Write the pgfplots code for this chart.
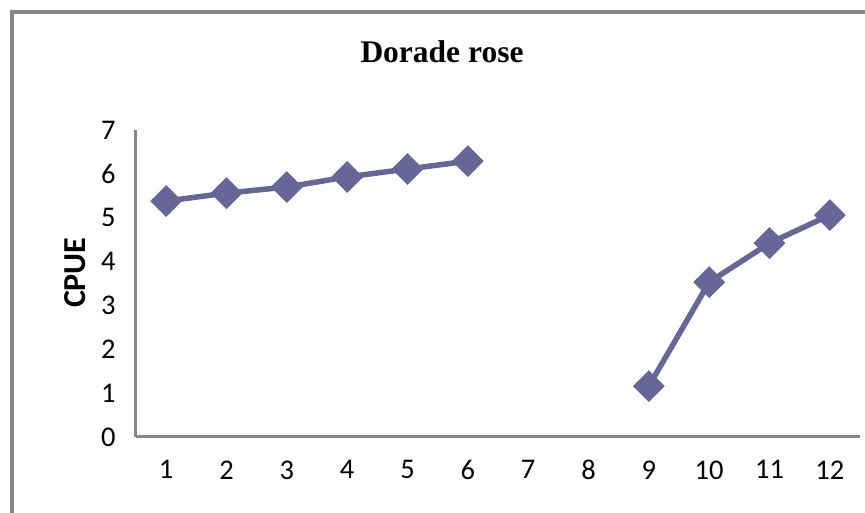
\documentclass[border=0pt]{standalone}
\usepackage{pgfplots}
\pgfplotsset{compat=1.18}
\usepackage{fontspec}
\setmainfont{Carlito}
\newfontfamily\titlefont{Liberation Serif}
\definecolor{serie}{HTML}{666699}
\definecolor{axe}{HTML}{868686}

\begin{document}
\begin{tikzpicture}[x=1pt,y=1pt]
\useasboundingbox (0,0) rectangle (865,513);
% cadre du graphique (seuls les bords haut et gauche visibles)
\draw[line width=4, color=axe] (12,0) -- (12,501) -- (865,501);
\node[font=\titlefont\bfseries\fontsize{31.5}{36}\selectfont] at (442,461) {Dorade rose};
\begin{axis}[
    at={(136pt,76pt)}, anchor=south west,
    scale only axis, width=724pt, height=307pt,
    xmin=0.5, xmax=12.5, ymin=0, ymax=7,
    xtick={1,...,12}, ytick={0,...,7},
    axis x line=bottom, axis y line=left,
    axis line style={-, line width=3, color=axe},
    major tick length=0,
    tick label style={font=\fontsize{28.5}{32}\selectfont},
    /pgf/number format/assume math mode=true,
    xticklabel style={yshift=-20pt},
    yticklabel style={xshift=-17pt},
    ylabel={CPUE},
    every axis y label/.style={at={(axis description cs:0,0.535)},
        anchor=center, rotate=90, yshift=61pt,
        font=\bfseries\fontsize{32}{36}\selectfont},
    unbounded coords=jump,
    clip=false,
    ]
\addplot[color=serie, line width=5.5, mark=square*,
    mark options={rotate=45, solid}, mark size=8.5]
coordinates {
    (1,5.38) (2,5.56) (3,5.70) (4,5.93) (5,6.11) (6,6.29)
    (7,nan) (8,nan)
    (9,1.16) (10,3.53) (11,4.42) (12,5.06)
};
\end{axis}
\end{tikzpicture}
\end{document}
